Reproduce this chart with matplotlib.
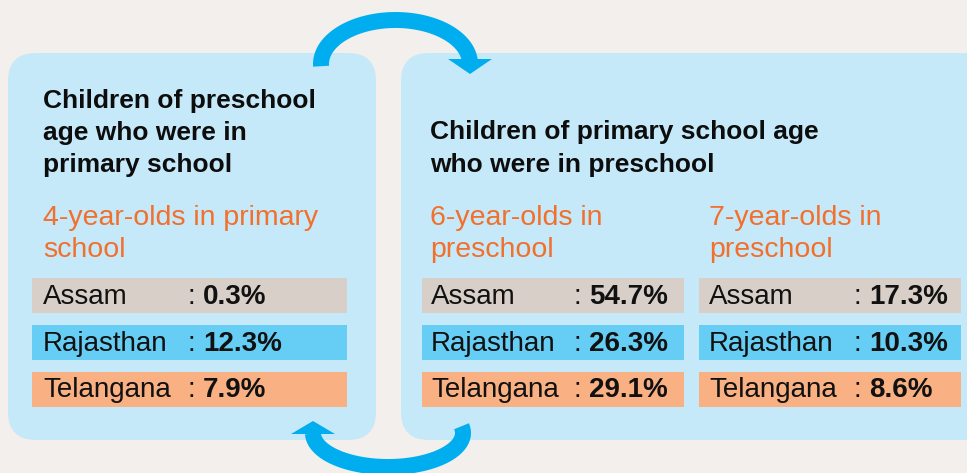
import numpy as np
import matplotlib.pyplot as plt
from matplotlib.patches import FancyBboxPatch, Rectangle, Polygon

states = ["Assam", "Rajasthan", "Telangana"]
age4_primary = ["0.3%", "12.3%", "7.9%"]
age6_preschool = ["54.7%", "26.3%", "29.1%"]
age7_preschool = ["17.3%", "10.3%", "8.6%"]

left_title = ["Children of preschool", "age who were in", "primary school"]
right_title = ["Children of primary school age", "who were in preschool"]
sub4 = ["4-year-olds in primary", "school"]
sub6 = ["6-year-olds in", "preschool"]
sub7 = ["7-year-olds in", "preschool"]

bg = "#f2efec"
panel = "#c5e9f9"
arrow_c = "#00aeef"
row_colors = ["#d7cfc8", "#66cef5", "#f9b183"]
orange = "#f26f2c"

plt.rcParams['font.family'] = ['Liberation Sans', 'DejaVu Sans']

fig = plt.figure(figsize=(9.67, 4.73), dpi=100, facecolor=bg)
ax = fig.add_axes([0, 0, 1, 1])
ax.set_xlim(0, 967)
ax.set_ylim(473, 0)
ax.axis("off")

# panels
ax.add_patch(FancyBboxPatch((8 + 28, 53 + 28), 368 - 56, 387 - 56,
                            boxstyle="round,pad=28", fc=panel, ec="none"))
ax.add_patch(FancyBboxPatch((401 + 28, 53 + 28), 620 - 56, 387 - 56,
                            boxstyle="round,pad=28", fc=panel, ec="none"))

# curved arrows
t = np.linspace(np.pi + 0.05, 0.02, 100)
ax.plot(395.5 + 74.5 * np.cos(t), 64 - 44 * np.sin(t), color=arrow_c,
        lw=11.5, solid_capstyle="butt")
ax.add_patch(Polygon([[448, 59], [492, 59], [470, 74]], fc=arrow_c, ec="none"))

t = np.linspace(-0.2, np.pi - 0.02, 100)
ax.plot(388 + 75 * np.cos(t), 433 + 34 * np.sin(t), color=arrow_c,
        lw=11.5, solid_capstyle="butt")
ax.add_patch(Polygon([[291, 434], [335, 434], [313, 421]], fc=arrow_c, ec="none"))

# titles
for i, line in enumerate(left_title):
    ax.text(43, 108 + 32 * i, line, fontsize=19, fontweight="bold",
            va="baseline", ha="left", color="#0d0d0d")
for i, line in enumerate(right_title):
    ax.text(430, 139 + 33 * i, line, fontsize=19, fontweight="bold",
            va="baseline", ha="left", color="#0d0d0d")
for x0, sub in [(43, sub4), (430, sub6), (709, sub7)]:
    for i, line in enumerate(sub):
        ax.text(x0, 225 + 32 * i, line, fontsize=20.5, va="baseline",
                ha="left", color=orange)

# table rows
row_top = [278, 325, 372]
row_base = [304, 350.5, 397]
columns = [(32, 347, 43, 188, 203, age4_primary),
           (422, 684, 431, 574, 589, age6_preschool),
           (699, 961, 709, 854, 869, age7_preschool)]
for x1, x2, xs, xc, xv, vals in columns:
    for i, st in enumerate(states):
        ax.add_patch(Rectangle((x1, row_top[i]), x2 - x1, 35,
                               fc=row_colors[i], ec="none"))
        ax.text(xs, row_base[i], st, fontsize=20, va="baseline",
                ha="left", color="#111111")
        ax.text(xc, row_base[i], ":", fontsize=20, va="baseline",
                ha="left", color="#111111")
        ax.text(xv, row_base[i], vals[i], fontsize=20, fontweight="bold",
                va="baseline", ha="left", color="#111111")

fig.savefig("out.png", dpi=100, facecolor=bg)
